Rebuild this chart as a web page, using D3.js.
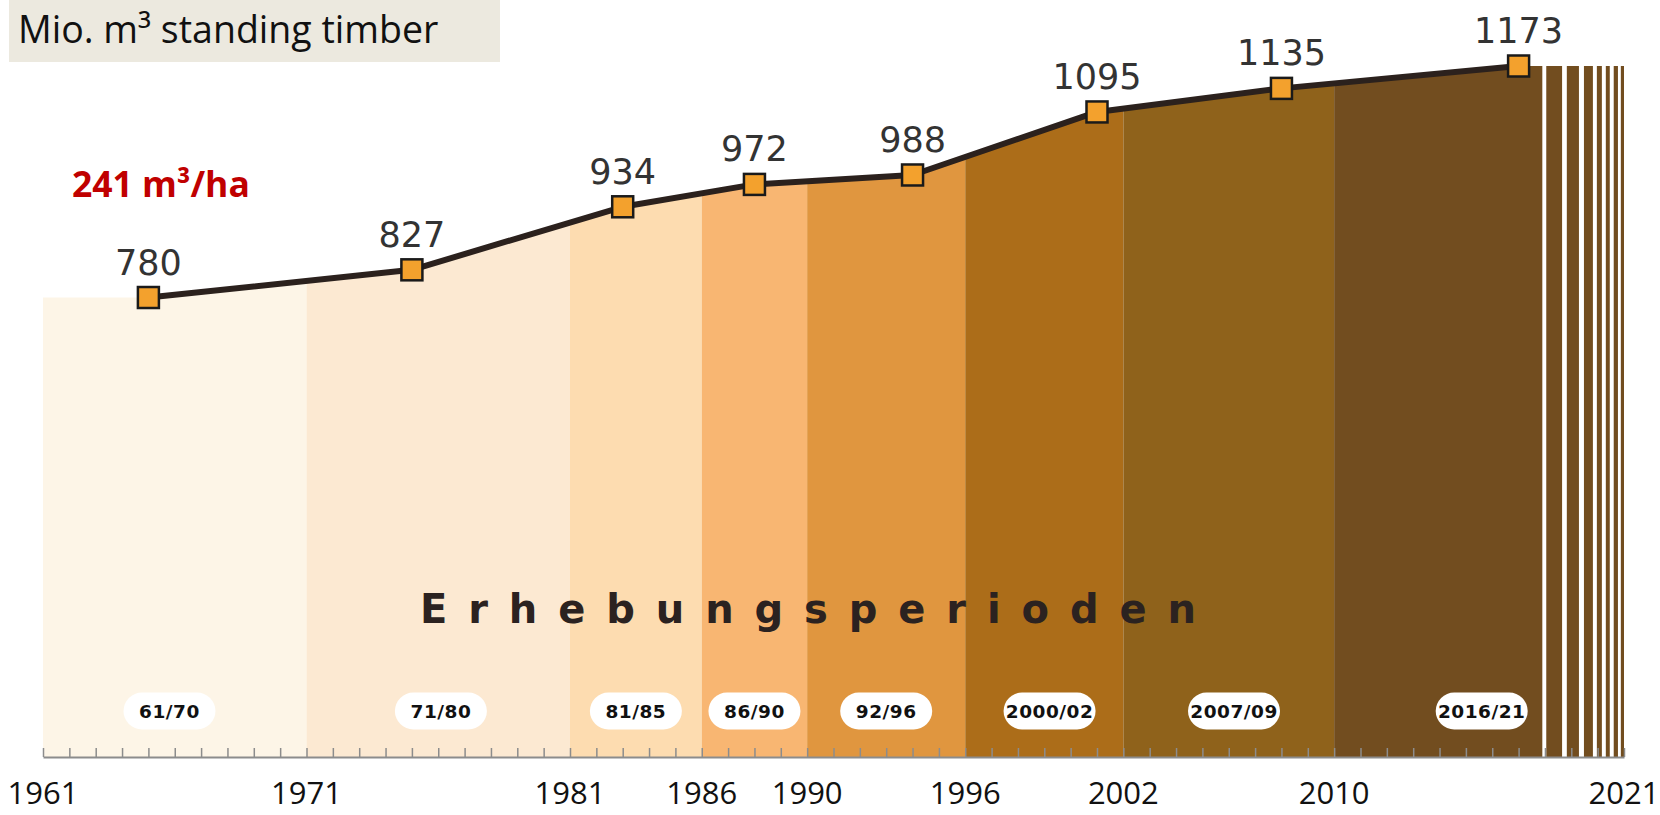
<!DOCTYPE html>
<html>
<head>
<meta charset="utf-8">
<script src="https://cdn.jsdelivr.net/npm/d3@7"></script>
<style>
  body { margin: 0; background: #fff; }
  svg { display: block; }
</style>
</head>
<body>
<svg id="chart" width="1660" height="815"></svg>
<script>
// survey periods (Erhebungsperioden)
const periods = ["61/70", "71/80", "81/85", "86/90", "92/96", "2000/02", "2007/09", "2016/21"];
const periodStart = [1961, 1971, 1981, 1986, 1990, 1996, 2002, 2010];
const periodEnd = [1971, 1981, 1986, 1990, 1996, 2002, 2010, 2017.9];
const periodLabelYear = [1965.8, 1976.1, 1983.5, 1988, 1993, 1999.2, 2006.2, 2015.6];
const periodColors = ["#fdf5e7", "#fce9d2", "#fddcb0", "#f8b672", "#e0963f", "#ac6d19", "#8f621b", "#724d1f"];

// standing timber, Mio. m³
const surveyYears = [1965, 1975, 1983, 1988, 1994, 2001, 2008, 2017];
const stock = [780, 827, 934, 972, 988, 1095, 1135, 1173];

// axis
const firstYear = 1961;
const lastYear = 2021;
const axisYears = [1961, 1971, 1981, 1986, 1990, 1996, 2002, 2010, 2021];

// fading stripes after the last period
const stripeStart = [2018.05, 2018.83, 2019.48, 2019.97, 2020.31, 2020.61, 2020.88];
const stripeEnd = [2018.65, 2019.29, 2019.82, 2020.16, 2020.46, 2020.77, 2021];

const svg = d3.select("#chart");
const axisY = 757;

const x = d3.scaleLinear().domain([firstYear, lastYear]).range([43, 1624]);
const y = d3.scaleLinear().domain([0, 1173]).range([axisY, 66]);

// area under the line, extended flat to both ends
const areaPts = [[firstYear, stock[0]]]
  .concat(surveyYears.map((yr, i) => [yr, stock[i]]))
  .concat([[lastYear, stock[stock.length - 1]]]);

const area = d3.area()
  .x((d) => x(d[0]))
  .y0(y(0))
  .y1((d) => y(d[1]));

svg.append("clipPath")
  .attr("id", "under")
  .append("path")
  .attr("d", area(areaPts));

const bands = svg.append("g").attr("clip-path", "url(#under)");

bands.selectAll(".band")
  .data(periods)
  .join("rect")
  .attr("class", "band")
  .attr("x", (d, i) => x(periodStart[i]))
  .attr("width", (d, i) => x(periodEnd[i]) - x(periodStart[i]))
  .attr("y", 0)
  .attr("height", axisY)
  .attr("fill", (d, i) => periodColors[i]);

bands.selectAll(".stripe")
  .data(stripeStart)
  .join("rect")
  .attr("class", "stripe")
  .attr("x", (d) => x(d))
  .attr("width", (d, i) => x(stripeEnd[i]) - x(d))
  .attr("y", 0)
  .attr("height", axisY)
  .attr("fill", periodColors[periodColors.length - 1]);

// title box
svg.append("rect")
  .attr("x", 9).attr("y", 0)
  .attr("width", 491).attr("height", 62)
  .attr("fill", "#ece9df");

svg.append("text")
  .attr("x", 18).attr("y", 43)
  .attr("font-family", "'Open Sans', sans-serif")
  .attr("font-size", 37.5)
  .attr("fill", "#111")
  .text("Mio. m³ standing timber");

svg.append("text")
  .attr("x", 72).attr("y", 197)
  .attr("font-family", "'Open Sans', sans-serif")
  .attr("font-weight", "bold")
  .attr("font-size", 35.5)
  .attr("fill", "#c00000")
  .text("241 m³/ha");

// big label across the bands
svg.append("text")
  .attr("x", 420).attr("y", 623)
  .attr("font-family", "'DejaVu Sans', sans-serif")
  .attr("font-weight", "bold")
  .attr("font-size", 40)
  .attr("fill", "#2b2220")
  .attr("textLength", 776)
  .attr("lengthAdjust", "spacing")
  .text("Erhebungsperioden");

// period pills
const pills = svg.selectAll(".pill")
  .data(periods)
  .join("g")
  .attr("class", "pill")
  .attr("transform", (d, i) => `translate(${x(periodLabelYear[i])},711)`);

pills.append("rect")
  .attr("x", -46).attr("y", -18.5)
  .attr("width", 92).attr("height", 37)
  .attr("rx", 18.5)
  .attr("fill", "#fff");

pills.append("text")
  .attr("text-anchor", "middle")
  .attr("y", 6.5)
  .attr("font-family", "'DejaVu Sans', sans-serif")
  .attr("font-weight", "bold")
  .attr("font-size", 18.5)
  .attr("letter-spacing", 0.5)
  .attr("fill", "#111")
  .text((d) => d);

// axis with a tick each year
const axis = svg.append("g")
  .attr("transform", `translate(0,${axisY})`)
  .call(d3.axisBottom(x)
    .tickValues(d3.range(firstYear, lastYear + 1))
    .tickSizeInner(-9)
    .tickSizeOuter(0)
    .tickFormat(""));

axis.select(".domain").attr("stroke", "#8c8c8c").attr("stroke-width", 2);
axis.selectAll(".tick line").attr("stroke", "#8c8c8c").attr("stroke-width", 1.5);

svg.selectAll(".year")
  .data(axisYears)
  .join("text")
  .attr("class", "year")
  .attr("x", (d) => x(d))
  .attr("y", 804)
  .attr("text-anchor", "middle")
  .attr("font-family", "'Open Sans', sans-serif")
  .attr("font-size", 31)
  .attr("fill", "#111")
  .text((d) => d);

// the line with markers
const line = d3.line()
  .x((d, i) => x(surveyYears[i]))
  .y((d) => y(d));

svg.append("path")
  .attr("d", line(stock))
  .attr("fill", "none")
  .attr("stroke", "#2b211d")
  .attr("stroke-width", 6)
  .attr("stroke-linejoin", "round");

svg.selectAll(".marker")
  .data(stock)
  .join("rect")
  .attr("class", "marker")
  .attr("x", (d, i) => x(surveyYears[i]) - 10.5)
  .attr("y", (d) => y(d) - 10.5)
  .attr("width", 21)
  .attr("height", 21)
  .attr("fill", "#f3a12d")
  .attr("stroke", "#1a1a1a")
  .attr("stroke-width", 2.5);

svg.selectAll(".value")
  .data(stock)
  .join("text")
  .attr("class", "value")
  .attr("x", (d, i) => x(surveyYears[i]))
  .attr("y", (d) => y(d) - 23)
  .attr("text-anchor", "middle")
  .attr("font-family", "'DejaVu Sans', sans-serif")
  .attr("font-size", 35)
  .attr("fill", "#333")
  .text((d) => d);
</script>
</body>
</html>
